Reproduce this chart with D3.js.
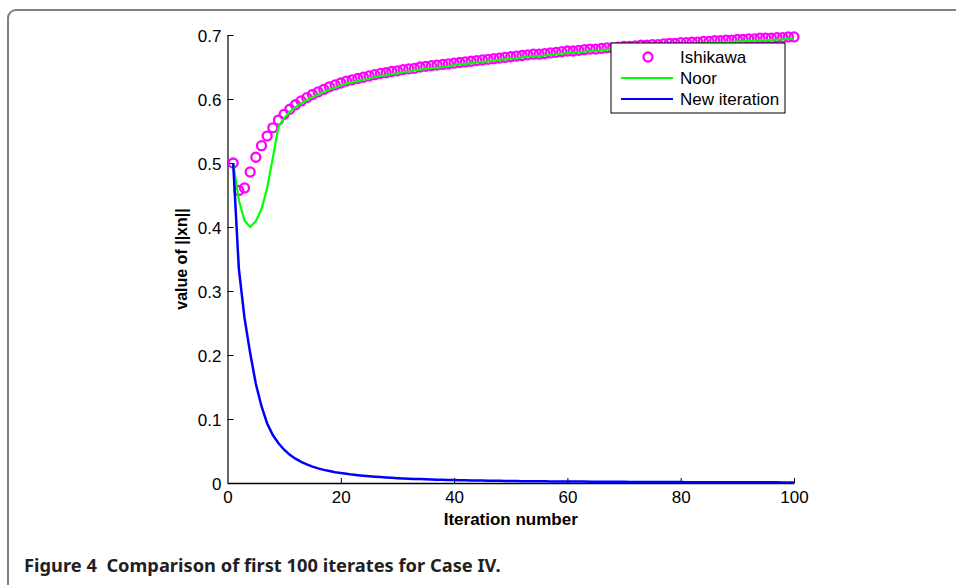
<!DOCTYPE html>
<html>
<head>
<meta charset="utf-8">
<script src="https://cdn.jsdelivr.net/npm/d3@7"></script>
<style>
  body { margin: 0; background: #fff; }
  svg { display: block; }
</style>
</head>
<body>
<div id="chart"></div>
<script>
// values, iterations 1..100
const ishikawa = [
  0.500, 0.457, 0.461, 0.486, 0.509, 0.527, 0.542, 0.555, 0.567, 0.576,
  0.584, 0.591, 0.597, 0.602, 0.607, 0.611, 0.615, 0.619, 0.622, 0.625,
  0.628, 0.630, 0.632, 0.634, 0.636, 0.638, 0.640, 0.641, 0.643, 0.644,
  0.646, 0.647, 0.648, 0.650, 0.651, 0.652, 0.653, 0.654, 0.655, 0.656,
  0.657, 0.658, 0.659, 0.660, 0.661, 0.662, 0.663, 0.664, 0.665, 0.666,
  0.667, 0.668, 0.669, 0.670, 0.670, 0.671, 0.672, 0.673, 0.674, 0.675,
  0.675, 0.676, 0.677, 0.678, 0.678, 0.679, 0.680, 0.680, 0.681, 0.682,
  0.682, 0.683, 0.684, 0.684, 0.685, 0.685, 0.686, 0.687, 0.687, 0.688,
  0.688, 0.689, 0.689, 0.690, 0.690, 0.691, 0.691, 0.692, 0.692, 0.693,
  0.693, 0.694, 0.694, 0.695, 0.695, 0.695, 0.696, 0.696, 0.697, 0.697
];
const noor = [
  0.500, 0.442, 0.410, 0.400, 0.409, 0.428, 0.461, 0.508, 0.557, 0.570,
  0.580, 0.587, 0.593, 0.598, 0.603, 0.607, 0.611, 0.615, 0.618, 0.621,
  0.624, 0.626, 0.628, 0.630, 0.632, 0.634, 0.636, 0.637, 0.639, 0.640,
  0.642, 0.643, 0.645, 0.646, 0.647, 0.648, 0.649, 0.650, 0.651, 0.653,
  0.654, 0.655, 0.656, 0.657, 0.658, 0.659, 0.660, 0.661, 0.662, 0.663,
  0.664, 0.665, 0.666, 0.667, 0.667, 0.668, 0.669, 0.670, 0.671, 0.672,
  0.672, 0.673, 0.674, 0.675, 0.675, 0.676, 0.677, 0.677, 0.678, 0.679,
  0.679, 0.680, 0.681, 0.681, 0.682, 0.682, 0.683, 0.684, 0.684, 0.685,
  0.685, 0.686, 0.686, 0.687, 0.687, 0.688, 0.688, 0.689, 0.689, 0.690,
  0.690, 0.691, 0.691, 0.692, 0.692, 0.692, 0.693, 0.693, 0.694, 0.694
];
const newIteration = [
  0.500, 0.335, 0.258, 0.203, 0.155, 0.120, 0.093, 0.075, 0.062, 0.052,
  0.044, 0.038, 0.033, 0.029, 0.0256, 0.0228, 0.0205, 0.0186, 0.0169, 0.0155,
  0.0143, 0.0131, 0.0122, 0.0113, 0.0105, 0.0098, 0.0092, 0.0086, 0.0081, 0.0076,
  0.0072, 0.0068, 0.0064, 0.0061, 0.0058, 0.0055, 0.0052, 0.0050, 0.0048, 0.0046,
  0.0044, 0.0042, 0.0041, 0.0039, 0.0038, 0.0036, 0.0035, 0.0034, 0.0032, 0.0031,
  0.0030, 0.0029, 0.0029, 0.0028, 0.0027, 0.0026, 0.0025, 0.0025, 0.0024, 0.0023,
  0.0023, 0.0022, 0.0022, 0.0021, 0.0020, 0.0020, 0.0019, 0.0019, 0.0018, 0.0018,
  0.0017, 0.0017, 0.0016, 0.0016, 0.0016, 0.0015, 0.0015, 0.0014, 0.0014, 0.0014,
  0.0013, 0.0013, 0.0013, 0.0013, 0.0012, 0.0012, 0.0012, 0.0012, 0.0011, 0.0011,
  0.0011, 0.0011, 0.0010, 0.0010, 0.0010, 0.0010, 0.0010, 0.0009, 0.0009, 0.0009
];
const xTicks = [0, 20, 40, 60, 80, 100];
const yTicks = [0, 0.1, 0.2, 0.3, 0.4, 0.5, 0.6, 0.7];
const legendNames = ["Ishikawa", "Noor", "New iteration"];

const iters = d3.range(1, ishikawa.length + 1);

const width = 956, height = 585;
const font = "'Liberation Sans', Arial, Helvetica, sans-serif";

const svg = d3.select("#chart").append("svg")
    .attr("width", width)
    .attr("height", height);

// figure frame (rounded top-left corner, runs off the right and bottom)
svg.append("path")
    .attr("d", "M8,600 V18 A8,8 0 0 1 16,10 H970")
    .attr("fill", "none")
    .attr("stroke", "#808080")
    .attr("stroke-width", 2);

const x = d3.scaleLinear().domain([0, 100]).range([227.5, 794]);
const y = d3.scaleLinear().domain([0, 0.7]).range([483, 35]);

// axes (ticks point inward, no box)
const xAxis = svg.append("g")
    .attr("transform", `translate(0,${y(0)})`)
    .call(d3.axisBottom(x).tickValues(xTicks).tickSizeInner(-5).tickSizeOuter(0).tickPadding(8));
const yAxis = svg.append("g")
    .attr("transform", `translate(${x(0)},0)`)
    .call(d3.axisLeft(y).tickValues(yTicks).tickSizeInner(-6).tickSizeOuter(0).tickPadding(6)
        .tickFormat(d => d === 0 ? "0" : d3.format(".1f")(d)));

[xAxis, yAxis].forEach(g => {
    g.attr("font-family", font).attr("font-size", 17);
    g.selectAll("text").attr("fill", "#000");
});
xAxis.select(".domain").attr("stroke", "#000").attr("stroke-width", 1.5);
xAxis.selectAll(".tick line").attr("stroke", "#000");
yAxis.select(".domain").attr("stroke", "#666").attr("stroke-width", 2);
yAxis.selectAll(".tick line").attr("stroke", "#000");
yAxis.selectAll(".tick text").attr("dy", "0.36em");

// axis titles
svg.append("text")
    .attr("x", (x(0) + x(100)) / 2)
    .attr("y", 525)
    .attr("text-anchor", "middle")
    .attr("font-family", font)
    .attr("font-size", 17)
    .attr("font-weight", "bold")
    .text("Iteration number");

svg.append("text")
    .attr("transform", `translate(187,${(y(0) + y(0.7)) / 2}) rotate(-90)`)
    .attr("text-anchor", "middle")
    .attr("font-family", font)
    .attr("font-size", 16)
    .attr("font-weight", "bold")
    .text("value of ||xn||");

// series
svg.append("g")
    .selectAll("circle")
    .data(ishikawa)
    .enter()
    .append("circle")
    .attr("cx", (d, i) => x(iters[i]))
    .attr("cy", d => y(d))
    .attr("r", 4.5)
    .attr("fill", "none")
    .attr("stroke", "#ff00ff")
    .attr("stroke-width", 2.3);

const line = d3.line()
    .x((d, i) => x(iters[i]))
    .y(d => y(d));

svg.append("path")
    .datum(noor)
    .attr("d", line)
    .attr("fill", "none")
    .attr("stroke", "#00ff00")
    .attr("stroke-width", 2.2);

svg.append("path")
    .datum(newIteration)
    .attr("d", line)
    .attr("fill", "none")
    .attr("stroke", "#0000ff")
    .attr("stroke-width", 2.5);

// legend
const legend = svg.append("g").attr("transform", "translate(611,43)");
legend.append("rect")
    .attr("width", 174)
    .attr("height", 70)
    .attr("fill", "#fff")
    .attr("stroke", "#000")
    .attr("stroke-width", 1);

const legendStyles = [
    { kind: "marker", color: "#ff00ff" },
    { kind: "line", color: "#00ff00" },
    { kind: "line", color: "#0000ff" }
];

legendNames.forEach((name, i) => {
    const cy = 14 + i * 21;
    const st = legendStyles[i];
    if (st.kind === "marker") {
        legend.append("circle")
            .attr("cx", 37)
            .attr("cy", cy)
            .attr("r", 4.5)
            .attr("fill", "none")
            .attr("stroke", st.color)
            .attr("stroke-width", 2.3);
    } else {
        legend.append("line")
            .attr("x1", 10).attr("x2", 62)
            .attr("y1", cy).attr("y2", cy)
            .attr("stroke", st.color)
            .attr("stroke-width", 2.2);
    }
    legend.append("text")
        .attr("x", 69)
        .attr("y", cy)
        .attr("dy", "0.36em")
        .attr("font-family", font)
        .attr("font-size", 17)
        .text(name);
});

// caption
svg.append("text")
    .attr("x", 24)
    .attr("y", 572)
    .attr("font-family", "'Noto Sans', 'Open Sans', sans-serif")
    .attr("font-size", 18.3)
    .attr("font-weight", "bold")
    .attr("fill", "#231f20")
    .style("white-space", "pre")
    .text("Figure 4  Comparison of first 100 iterates for Case IV.");
</script>
</body>
</html>
